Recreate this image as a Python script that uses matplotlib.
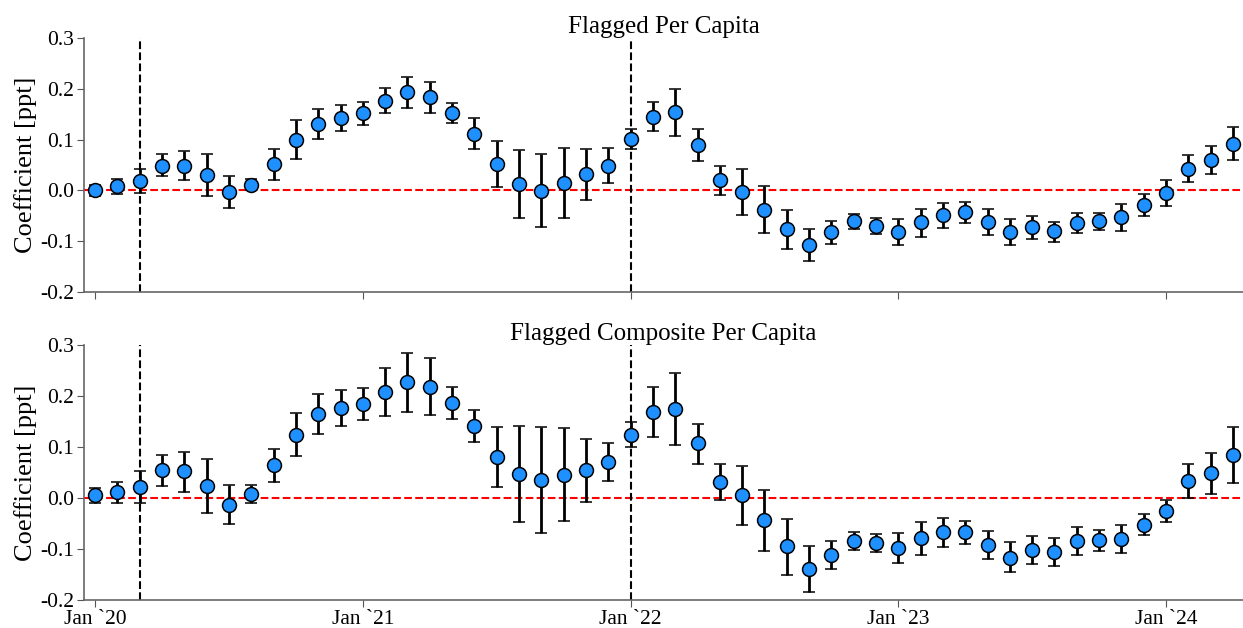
import numpy as np
import matplotlib
matplotlib.use("Agg")
import matplotlib.pyplot as plt

plt.rcParams["font.family"] = ["Liberation Serif", "DejaVu Serif"]
plt.rcParams["axes.unicode_minus"] = False

# monthly event-study coefficients, Jan 2020 .. Apr 2024
months = np.arange(52)
tick_pos = [0, 12, 24, 36, 48]
tick_labels = ["Jan `20", "Jan `21", "Jan `22", "Jan `23", "Jan `24"]
event_lines = [2, 24]

pc_coef = [0.000, 0.008, 0.018, 0.049, 0.049, 0.030, -0.004, 0.011, 0.052, 0.100,
           0.131, 0.143, 0.152, 0.176, 0.193, 0.184, 0.152, 0.112, 0.052, 0.012,
           -0.001, 0.014, 0.033, 0.049, 0.101, 0.145, 0.154, 0.089, 0.020, -0.003,
           -0.038, -0.076, -0.107, -0.082, -0.061, -0.070, -0.082, -0.063, -0.048, -0.043,
           -0.062, -0.082, -0.073, -0.080, -0.064, -0.061, -0.053, -0.029, -0.005, 0.043,
           0.060, 0.092]
pc_low = [-0.011, -0.007, -0.006, 0.028, 0.020, -0.012, -0.034, 0.000, 0.021, 0.061,
          0.101, 0.116, 0.129, 0.152, 0.163, 0.153, 0.132, 0.081, 0.007, -0.054,
          -0.073, -0.054, -0.018, 0.015, 0.082, 0.116, 0.107, 0.058, -0.009, -0.048,
          -0.084, -0.116, -0.139, -0.105, -0.076, -0.086, -0.108, -0.092, -0.074, -0.065,
          -0.088, -0.108, -0.095, -0.101, -0.084, -0.078, -0.079, -0.051, -0.031, 0.016,
          0.032, 0.059]
pc_high = [0.011, 0.023, 0.042, 0.071, 0.078, 0.072, 0.028, 0.022, 0.081, 0.139,
           0.161, 0.169, 0.174, 0.201, 0.224, 0.214, 0.172, 0.142, 0.097, 0.079,
           0.071, 0.083, 0.082, 0.083, 0.120, 0.174, 0.200, 0.120, 0.048, 0.042,
           0.008, -0.038, -0.076, -0.061, -0.047, -0.054, -0.056, -0.037, -0.024, -0.023,
           -0.037, -0.056, -0.050, -0.062, -0.045, -0.044, -0.027, -0.008, 0.020, 0.069,
           0.087, 0.124]

comp_coef = [0.0065, 0.011, 0.021, 0.055, 0.052, 0.023, -0.013, 0.008, 0.064, 0.124,
             0.164, 0.177, 0.185, 0.208, 0.227, 0.218, 0.186, 0.142, 0.081, 0.047,
             0.035, 0.046, 0.055, 0.070, 0.124, 0.169, 0.175, 0.107, 0.032, 0.005,
             -0.044, -0.095, -0.139, -0.112, -0.084, -0.088, -0.098, -0.079, -0.067, -0.067,
             -0.092, -0.117, -0.101, -0.105, -0.084, -0.082, -0.080, -0.052, -0.025, 0.033,
             0.049, 0.085]
comp_low = [-0.009, -0.010, -0.010, 0.024, 0.012, -0.030, -0.051, -0.009, 0.032, 0.082,
            0.126, 0.142, 0.153, 0.161, 0.168, 0.162, 0.154, 0.110, 0.021, -0.048,
            -0.069, -0.046, -0.007, 0.033, 0.100, 0.120, 0.104, 0.067, -0.003, -0.052,
            -0.104, -0.150, -0.184, -0.140, -0.101, -0.105, -0.128, -0.111, -0.096, -0.090,
            -0.120, -0.146, -0.129, -0.134, -0.112, -0.104, -0.108, -0.072, -0.048, 0.000,
            0.008, 0.029]
comp_high = [0.020, 0.031, 0.052, 0.085, 0.091, 0.076, 0.025, 0.026, 0.097, 0.166,
             0.203, 0.211, 0.216, 0.254, 0.285, 0.275, 0.218, 0.172, 0.140, 0.141,
             0.139, 0.137, 0.115, 0.107, 0.149, 0.217, 0.246, 0.146, 0.066, 0.062,
             0.016, -0.042, -0.095, -0.084, -0.067, -0.070, -0.068, -0.048, -0.039, -0.046,
             -0.065, -0.087, -0.074, -0.078, -0.056, -0.062, -0.052, -0.032, -0.004, 0.067,
             0.088, 0.140]

panels = [
    ("Flagged Per Capita", pc_coef, pc_low, pc_high),
    ("Flagged Composite Per Capita", comp_coef, comp_low, comp_high),
]

W, H = 1243, 628
fig = plt.figure(figsize=(W / 100, H / 100), dpi=100)
boxes = [(84, 38, 292), (84, 345, 600)]

for i, ((title, coef, low, high), (x0, ytop, ybot)) in enumerate(zip(panels, boxes)):
    ax = fig.add_axes([x0 / W, 1 - ybot / H, (W - x0) / W, (ybot - ytop) / H])
    coef = np.array(coef)
    err = np.vstack([coef - np.array(low), np.array(high) - coef])

    ax.axhline(0, color="red", ls="--", lw=1.5, zorder=1)
    for m in event_lines:
        ax.axvline(m, color="black", ls="--", lw=1.5, zorder=1)

    ax.errorbar(months, coef, yerr=err, fmt="o", color="black", ecolor="black",
                elinewidth=2, capsize=4.5, capthick=1.8,
                markerfacecolor="#1E90FF", markeredgecolor="black",
                markeredgewidth=1.1, markersize=10, zorder=3)

    ax.set_xlim(-0.5, 51.45)
    ax.set_ylim(-0.2, 0.3)
    ax.set_yticks(np.arange(-0.2, 0.31, 0.1))
    ax.set_yticklabels([f"{v:.1f}" for v in np.arange(-0.2, 0.31, 0.1)])
    ax.set_xticks(tick_pos)
    if i == 1:
        ax.set_xticklabels(tick_labels)
    else:
        ax.set_xticklabels([])
    ax.tick_params(labelsize=15.5, color="#555555", length=5, pad=2)
    ax.set_ylabel("Coefficient [ppt]", fontsize=19, labelpad=2)
    ax.set_title(title, fontsize=18, pad=2)
    for s in ("top", "right"):
        ax.spines[s].set_visible(False)
    for s in ("left", "bottom"):
        ax.spines[s].set_color("#666666")
        ax.spines[s].set_linewidth(1.2)

fig.savefig("out.png", dpi=100)
